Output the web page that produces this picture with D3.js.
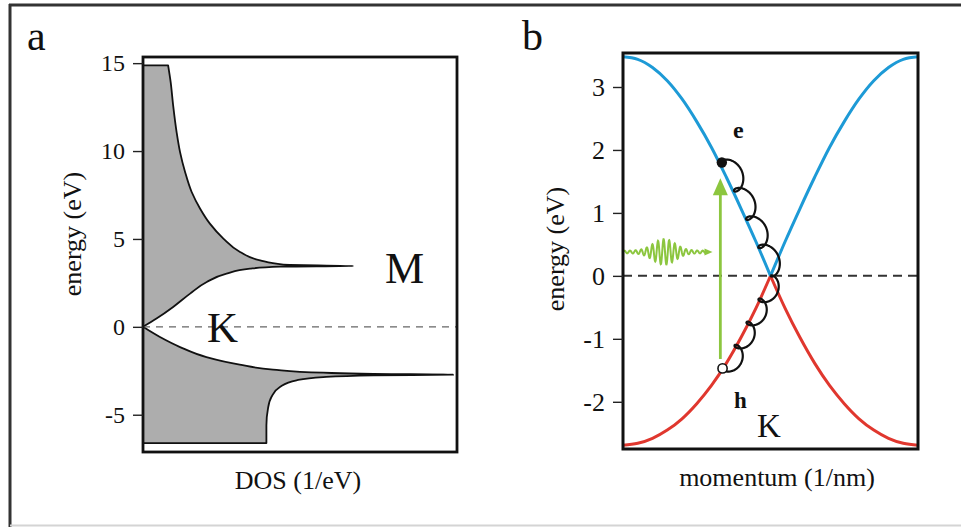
<!DOCTYPE html>
<html>
<head>
<meta charset="utf-8">
<script src="https://cdn.jsdelivr.net/npm/d3@7"></script>
<style>
  html, body { margin: 0; padding: 0; background: #fff; }
  svg { display: block; }
  text { font-family: 'Liberation Serif', 'Times New Roman', serif; fill: #111; }
</style>
</head>
<body>
<script>
'use strict';

var width = 961,
    height = 529;

var serif = "'Liberation Serif', 'Times New Roman', serif";

// panel a: density of states, [energy (eV), DOS (arb.)]
var dosUpper = [
    [0, 0], [0.47, 0.043], [1.13, 0.096], [1.89, 0.150], [2.55, 0.203],
    [3.03, 0.266], [3.31, 0.341], [3.42, 0.437], [3.46, 0.67], [3.54, 0.447],
    [3.78, 0.373], [4.26, 0.309], [5.02, 0.256], [5.87, 0.213], [6.72, 0.182],
    [7.67, 0.155], [8.81, 0.134], [9.94, 0.118], [11.08, 0.107], [12.6, 0.096],
    [13.93, 0.088], [14.87, 0.080]
];
var dosLower = [
    [0, 0], [-0.58, 0.054], [-1.15, 0.118], [-1.72, 0.202], [-2.15, 0.308],
    [-2.43, 0.414], [-2.61, 0.574], [-2.68, 0.734], [-2.72, 0.988], [-2.76, 0.734],
    [-2.86, 0.574], [-3.04, 0.489], [-3.42, 0.436], [-3.99, 0.409], [-4.65, 0.398],
    [-5.6, 0.393], [-6.61, 0.393]
];
var ticksA = [-5, 0, 5, 10, 15];

// panel b: bands along M-K-M
var momentum = [-1, -0.9, -0.8, -0.7, -0.6, -0.5, -0.4, -0.3, -0.2, -0.1, 0,
    0.1, 0.2, 0.3, 0.4, 0.5, 0.6, 0.7, 0.8, 0.9, 1];
var bandUp = [3.48, 3.44, 3.31, 3.10, 2.81, 2.45, 2.04, 1.57, 1.07, 0.55, 0,
    0.55, 1.07, 1.57, 2.04, 2.45, 2.81, 3.10, 3.31, 3.44, 3.48];
var bandDown = [-2.69, -2.66, -2.58, -2.45, -2.27, -2.03, -1.74, -1.39, -0.98, -0.52, 0,
    -0.52, -0.98, -1.39, -1.74, -2.03, -2.27, -2.45, -2.58, -2.66, -2.69];
var ticksB = [-2, -1, 0, 1, 2, 3];

// annotations in panel b (momentum, energy)
var electron = [-0.33, 1.80];
var hole = [-0.325, -1.47];
var pumpK = -0.34, pumpE = [-1.32, 1.55];
var photonE = 0.38, photonK = [-1, -0.40];

var green = '#8cc63f',
    blue = '#1d9ad6',
    red = '#e0372e';

var svg = d3.select('body').append('svg')
    .attr('width', width)
    .attr('height', height);

// outer frame of the figure
svg.append('line').attr('x1', 9).attr('x2', width).attr('y1', 5).attr('y2', 5)
    .attr('stroke', '#333').attr('stroke-width', 3);
svg.append('line').attr('x1', 10).attr('x2', 10).attr('y1', 4).attr('y2', 527)
    .attr('stroke', '#333').attr('stroke-width', 3);
svg.append('line').attr('x1', 10).attr('x2', width).attr('y1', 525.5).attr('y2', 525.5)
    .attr('stroke', '#d4d4d4').attr('stroke-width', 2);

// ---------- panel a ----------
var xA = d3.scaleLinear().domain([0, 1]).range([143, 457]);
var yA = d3.scaleLinear().domain([-7.12, 15.35]).range([452, 57]);

var gA = svg.append('g');

var dosArea = d3.area()
    .curve(d3.curveMonotoneY)
    .y(function(d) { return yA(d[0]); })
    .x0(xA(0))
    .x1(function(d) { return xA(d[1]); });

[dosUpper, dosLower].forEach(function(band) {
    gA.append('path')
        .attr('d', dosArea(band))
        .attr('fill', '#adadad')
        .attr('stroke', '#111')
        .attr('stroke-width', 1.8)
        .attr('stroke-linejoin', 'round');
});

gA.append('line')
    .attr('x1', xA(0)).attr('x2', xA(1))
    .attr('y1', yA(0)).attr('y2', yA(0))
    .attr('stroke', '#666').attr('stroke-width', 1.4)
    .attr('stroke-dasharray', '7,6');

gA.append('rect')
    .attr('x', xA(0)).attr('y', yA.range()[1])
    .attr('width', xA(1) - xA(0)).attr('height', yA.range()[0] - yA.range()[1])
    .attr('fill', 'none').attr('stroke', '#111').attr('stroke-width', 2.8);

var axisA = gA.append('g')
    .attr('transform', 'translate(' + xA(0) + ',0)')
    .call(d3.axisLeft(yA).tickValues(ticksA).tickSize(10).tickPadding(8)
        .tickFormat(function(d) { return String(d); }))
    .attr('font-family', serif)
    .attr('font-size', 24);
axisA.select('.domain').remove();
axisA.selectAll('line').attr('stroke', '#222').attr('stroke-width', 1.4);
axisA.selectAll('text').attr('fill', '#111');

gA.append('text').attr('x', 27).attr('y', 50).style('font-size', '42px').text('a');
gA.append('text').attr('x', 385).attr('y', 283).style('font-size', '44px').text('M');
gA.append('text').attr('x', 207).attr('y', 342).style('font-size', '43px').text('K');
gA.append('text').attr('x', 298).attr('y', 489).attr('text-anchor', 'middle')
    .style('font-size', '26px').text('DOS (1/eV)');
gA.append('text').attr('transform', 'translate(81,234) rotate(-90)')
    .attr('text-anchor', 'middle').style('font-size', '26px').text('energy (eV)');

// ---------- panel b ----------
var xB = d3.scaleLinear().domain([-1, 1]).range([623, 918]);
var yB = d3.scaleLinear().domain([-2.75, 3.54]).range([449, 53]);

var gB = svg.append('g');

svg.append('clipPath').attr('id', 'clipB').append('rect')
    .attr('x', xB(-1)).attr('y', yB(3.54))
    .attr('width', xB(1) - xB(-1)).attr('height', yB(-2.75) - yB(3.54));

var bandLine = d3.line()
    .curve(d3.curveMonotoneX)
    .x(function(d) { return xB(d[0]); })
    .y(function(d) { return yB(d[1]); });

function halves(values) {
    var pts = momentum.map(function(k, i) { return [k, values[i]]; });
    return [pts.filter(function(d) { return d[0] <= 0; }),
            pts.filter(function(d) { return d[0] >= 0; })];
}

var bands = gB.append('g').attr('clip-path', 'url(#clipB)');
[[bandDown, red], [bandUp, blue]].forEach(function(b) {
    halves(b[0]).forEach(function(pts) {
        bands.append('path')
            .attr('d', bandLine(pts))
            .attr('fill', 'none')
            .attr('stroke', b[1])
            .attr('stroke-width', 3);
    });
});

gB.append('line')
    .attr('x1', xB(-1)).attr('x2', xB(1))
    .attr('y1', yB(0)).attr('y2', yB(0))
    .attr('stroke', '#333').attr('stroke-width', 2)
    .attr('stroke-dasharray', '9,6');

// pump arrow
var ax = xB(pumpK), tipY = yB(pumpE[1]);
gB.append('line')
    .attr('x1', ax).attr('x2', ax)
    .attr('y1', yB(pumpE[0])).attr('y2', tipY + 14)
    .attr('stroke', green).attr('stroke-width', 2.8);
gB.append('path')
    .attr('d', 'M' + ax + ',' + tipY + 'L' + (ax + 7.5) + ',' + (tipY + 17) +
        'L' + (ax - 7.5) + ',' + (tipY + 17) + 'Z')
    .attr('fill', green);

// photon wave packet
var px0 = xB(photonK[0]), px1 = xB(photonK[1]) - 6, py = yB(photonE);
var pc = px0 + 0.5 * (px1 - px0);
var wave = d3.range(px0, px1, 0.25).map(function(x) {
    var env = 1.3 + 11.5 * Math.exp(-Math.pow((x - pc) / 11, 2) / 2);
    return [x, py - env * Math.sin((x - px0) * 2 * Math.PI / 5.6)];
});
gB.append('path')
    .attr('d', d3.line()(wave))
    .attr('fill', 'none').attr('stroke', green).attr('stroke-width', 2);
gB.append('path')
    .attr('d', 'M' + (px1 + 7) + ',' + py + 'L' + (px1 - 1) + ',' + (py - 3.5) +
        'L' + (px1 - 1) + ',' + (py + 3.5) + 'Z')
    .attr('fill', green);

// relaxation loops along the bands
function coil(p0, p1, n, h, r0) {
    var dx = p1[0] - p0[0], dy = p1[1] - p0[1];
    var L = Math.sqrt(dx * dx + dy * dy);
    var d = [dx / L, dy / L], nrm = [d[1], -d[0]];
    var r = L / (2 * Math.PI * n);
    return d3.range(0, 2 * Math.PI * n + 0.01, 0.05).map(function(t) {
        var s = r * t - r0 * Math.sin(t);
        var o = h - h * Math.cos(t);
        return [p0[0] + s * d[0] + o * nrm[0], p0[1] + s * d[1] + o * nrm[1]];
    });
}
var pe = [xB(electron[0]), yB(electron[1])],
    pk = [xB(0), yB(0)],
    ph = [xB(hole[0]), yB(hole[1])];
gB.append('path')
    .attr('d', d3.line().curve(d3.curveBasis)(coil(pe, pk, 4, 7.5, 7.5)))
    .attr('fill', 'none').attr('stroke', '#111').attr('stroke-width', 2.2);
gB.append('path')
    .attr('d', d3.line().curve(d3.curveBasis)(coil(pk, ph, 4, 7, 6.5)))
    .attr('fill', 'none').attr('stroke', '#111').attr('stroke-width', 2.2);

gB.append('circle').attr('cx', pe[0]).attr('cy', pe[1]).attr('r', 5.2).attr('fill', '#111');
gB.append('circle').attr('cx', ph[0]).attr('cy', ph[1]).attr('r', 4.6)
    .attr('fill', '#fff').attr('stroke', '#111').attr('stroke-width', 1.6);

gB.append('rect')
    .attr('x', xB(-1)).attr('y', yB.range()[1])
    .attr('width', xB(1) - xB(-1)).attr('height', yB.range()[0] - yB.range()[1])
    .attr('fill', 'none').attr('stroke', '#111').attr('stroke-width', 3);

var axisB = gB.append('g')
    .attr('transform', 'translate(' + xB(-1) + ',0)')
    .call(d3.axisLeft(yB).tickValues(ticksB).tickSize(10).tickPadding(8)
        .tickFormat(function(d) { return String(d); }))
    .attr('font-family', serif)
    .attr('font-size', 26);
axisB.select('.domain').remove();
axisB.selectAll('line').attr('stroke', '#222').attr('stroke-width', 1.4);
axisB.selectAll('text').attr('fill', '#111');

gB.append('text').attr('x', 522).attr('y', 50).style('font-size', '42px').text('b');
gB.append('text').attr('x', 733).attr('y', 138).style('font-size', '24px')
    .style('font-weight', 'bold').text('e');
gB.append('text').attr('x', 734).attr('y', 408).style('font-size', '23px')
    .style('font-weight', 'bold').text('h');
gB.append('text').attr('x', 757).attr('y', 437).style('font-size', '33px').text('K');
gB.append('text').attr('x', 777).attr('y', 486).attr('text-anchor', 'middle')
    .style('font-size', '26px').text('momentum (1/nm)');
gB.append('text').attr('transform', 'translate(564,249) rotate(-90)')
    .attr('text-anchor', 'middle').style('font-size', '26px').text('energy (eV)');
</script>
</body>
</html>
